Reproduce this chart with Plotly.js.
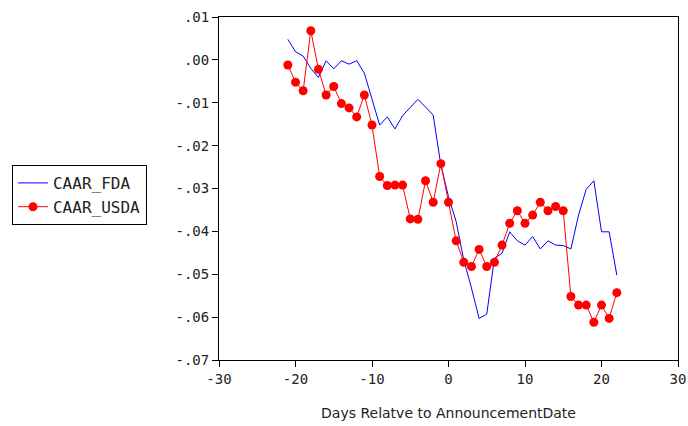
<!DOCTYPE html>
<html>
<head>
<meta charset="utf-8">
<script src="https://cdn.plot.ly/plotly-3.0.1.min.js"></script>
<style>html,body{margin:0;padding:0;background:#fff;}#chart{width:688px;height:426px;}</style>
</head>
<body>
<div id="chart"></div>
<script>
const days = [-21,-20,-19,-18,-17,-16,-15,-14,-13,-12,-11,-10,-9,-8,-7,-6,-5,-4,-3,-2,-1,0,1,2,3,4,5,6,7,8,9,10,11,12,13,14,15,16,17,18,19,20,21,22];
const caarFDA = [0.0048,0.0019,0.0009,-0.0020,-0.0041,-0.0002,-0.0021,-0.0002,-0.0010,-0.0002,-0.0031,-0.0090,-0.0152,-0.0133,-0.0161,-0.0130,-0.0110,-0.0092,-0.0110,-0.0129,-0.0245,-0.0319,-0.0377,-0.0467,-0.0532,-0.0603,-0.0593,-0.0463,-0.0451,-0.0401,-0.0422,-0.0432,-0.0412,-0.0441,-0.0422,-0.0432,-0.0433,-0.0441,-0.0362,-0.0302,-0.0282,-0.0401,-0.0401,-0.0502];
const caarUSDA = [-0.0012,-0.0052,-0.0072,0.0068,-0.0022,-0.0082,-0.0062,-0.0102,-0.0112,-0.0133,-0.0082,-0.0152,-0.0272,-0.0293,-0.0292,-0.0292,-0.0371,-0.0372,-0.0282,-0.0332,-0.0242,-0.0332,-0.0422,-0.0472,-0.0482,-0.0442,-0.0482,-0.0472,-0.0432,-0.0381,-0.0352,-0.0381,-0.0362,-0.0332,-0.0352,-0.0342,-0.0352,-0.0552,-0.0572,-0.0572,-0.0612,-0.0572,-0.0603,-0.0543];
const yTickVals = [0.01,0.00,-0.01,-0.02,-0.03,-0.04,-0.05,-0.06,-0.07];
const yTickText = [".01",".00","-.01","-.02","-.03","-.04","-.05","-.06","-.07"];
const xTickVals = [-30,-20,-10,0,10,20,30];
const xTickText = ["-30","-20","-10","0","10","20","30"];

const traces = [
  {x: days, y: caarFDA, name: "CAAR_FDA", type: "scatter", mode: "lines",
   line: {color: "#0000ff", width: 1}},
  {x: days, y: caarUSDA, name: "CAAR_USDA", type: "scatter", mode: "lines+markers",
   line: {color: "#ff0000", width: 1}, marker: {color: "#ff0000", size: 9}}
];

const monoFamily = "DejaVu Sans Mono";
const tickFont = {family: monoFamily, size: 14, color: "#222"};
const layout = {
  width: 688, height: 426,
  margin: {l: 219, r: 10, t: 17, b: 66},
  paper_bgcolor: "#fff", plot_bgcolor: "#fff",
  showlegend: true,
  legend: {x: -0.451, xanchor: "left", y: 0.481, yanchor: "middle",
    bordercolor: "#000", borderwidth: 1, bgcolor: "#fff",
    font: {family: monoFamily, size: 16, color: "#222"},
    tracegroupgap: 0, itemwidth: 30},
  xaxis: {range: [-30, 30], tickvals: xTickVals, ticktext: xTickText,
    showgrid: false, zeroline: false, showline: true, linecolor: "#000", linewidth: 1,
    mirror: true, ticks: "outside", ticklen: 6, tickcolor: "#000",
    tickfont: tickFont,
    title: {text: "Days Relatve to AnnouncementDate", standoff: 22,
      font: {family: "DejaVu Sans", size: 14, color: "#222"}}},
  yaxis: {range: [-0.07, 0.01], tickvals: yTickVals, ticktext: yTickText,
    showgrid: false, zeroline: false, showline: true, linecolor: "#000", linewidth: 1,
    mirror: true, ticks: "outside", ticklen: 6, tickcolor: "#000",
    tickfont: tickFont}
};
Plotly.newPlot("chart", traces, layout, {displayModeBar: false, staticPlot: true});
</script>
</body>
</html>
